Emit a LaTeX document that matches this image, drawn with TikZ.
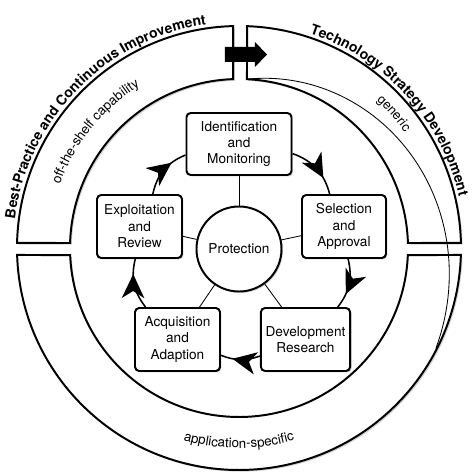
\documentclass[tikz,border=0pt]{standalone}
\usepackage{fontspec}
\setmainfont{TeX Gyre Heros}
\usepackage{tikz}
\usetikzlibrary{arrows.meta,shapes,positioning,shadows,decorations.text,decorations.markings}
\usepackage{xcolor}
\definecolor{cyclink}{RGB}{0,0,0}
\tikzstyle{band} = [draw, line width=1.4pt, fill=white, drop shadow={opacity=0.35, shadow xshift=1.2pt, shadow yshift=-1.2pt}]
\tikzstyle{stage} = [draw, line width=1.4pt, rounded corners=3pt, fill=white, align=center, font=\fontsize{9.7}{11.7}\selectfont, drop shadow={opacity=0.4, shadow xshift=1pt, shadow yshift=-1pt}]
\tikzstyle{core} = [draw, circle, line width=1.4pt, fill=white, minimum size=2.125cm, inner sep=0pt, font=\fontsize{9.7}{11.7}\selectfont, drop shadow={opacity=0.4, shadow xshift=1pt, shadow yshift=-1pt}]
\tikzstyle{spoke} = [line width=0.6pt]
\tikzstyle{cyclearrow} = [line width=1.1pt, color=cyclink, postaction={decorate}, decoration={markings, mark=at position 0.7 with {\arrow{Stealth[length=17pt,width=16pt,inset=5pt]}}}]

\begin{document}
\begin{tikzpicture}[x=0.025cm, y=0.025cm]
\useasboundingbox (-239,-226) rectangle (235,248);

% Outer bands
\draw[band] (181.8:222) arc[start angle=181.8, end angle=358.2, radius=222] -- (357.6:169) arc[start angle=357.6, end angle=182.4, radius=169] -- cycle;
\draw[band] (178.7:222) arc[start angle=178.7, end angle=91.5, radius=222] -- (92:169) arc[start angle=92, end angle=178.3, radius=169] -- cycle;
\draw[band] (87.9:222) arc[start angle=87.9, end angle=1.3, radius=222] -- (1.7:169) arc[start angle=1.7, end angle=87.3, radius=169] -- cycle;

% Thin spiral inside the right band
\draw[line width=0.6pt] plot[domain=87.3:-27, samples=60, variable=\t] ({\t}:{169+52*(87.3-\t)/114.3});

% Band labels
\path[decorate, decoration={text along path, text align=center, text={|\fontsize{10}{12}\selectfont\bfseries|Best-Practice and Continuous Improvement}}] (178:226) arc[start angle=178, end angle=93, radius=226];
\path[decorate, decoration={text along path, text align=center, text={|\fontsize{10}{12}\selectfont\bfseries|Technology Strategy Development}}] (75:226) arc[start angle=75, end angle=10, radius=226];
\path[decorate, decoration={text along path, text align=center, text={|\fontsize{9.5}{11}\selectfont|off-the-shelf capability}}] (165:190) arc[start angle=165, end angle=117, radius=190];
\path[decorate, decoration={text along path, text align=center, text={|\fontsize{9.3}{11}\selectfont|generic}}] (52:202) arc[start angle=52, end angle=30, radius=202];
\path[decorate, decoration={text along path, text align=center, text={|\fontsize{9.5}{11}\selectfont|application-specific}}] (245:200) arc[start angle=245, end angle=295, radius=200];

% Block arrow between the upper bands
\fill (-14,186) -- (16,186) -- (16,181) -- (28,193.5) -- (16,206) -- (16,201) -- (-14,201) -- cycle;

% Stages
\node[core] (prot) at (0,-1) {Protection};
\node[stage, minimum width=2.625cm, minimum height=1.55cm] (ident) at (0,104) {Identification\\and\\Monitoring};
\node[stage, minimum width=2.1cm, minimum height=1.575cm] (select) at (105,21.5) {Selection\\and\\Approval};
\node[stage, minimum width=2.175cm, minimum height=1.575cm] (devel) at (66.5,-91.5) {Development\\Research};
\node[stage, minimum width=2.125cm, minimum height=1.575cm] (acq) at (-61.5,-91.5) {Acquisition\\and\\Adaption};
\node[stage, minimum width=2.125cm, minimum height=1.575cm] (exploit) at (-99.5,21.5) {Exploitation\\and\\Review};

% Spokes
\foreach \s in {ident,select,devel,acq,exploit}
  \draw[spoke] (prot) -- (\s);

% Cycle
\draw[cyclearrow] (ident) to[bend left=28] (select);
\draw[cyclearrow] (select) to[bend left=26] (devel);
\draw[cyclearrow] (devel) to[bend left=20] (acq);
\draw[cyclearrow] (acq) to[bend left=26] (exploit);
\draw[cyclearrow] (exploit) to[bend left=28] (ident);
\end{tikzpicture}
\end{document}
